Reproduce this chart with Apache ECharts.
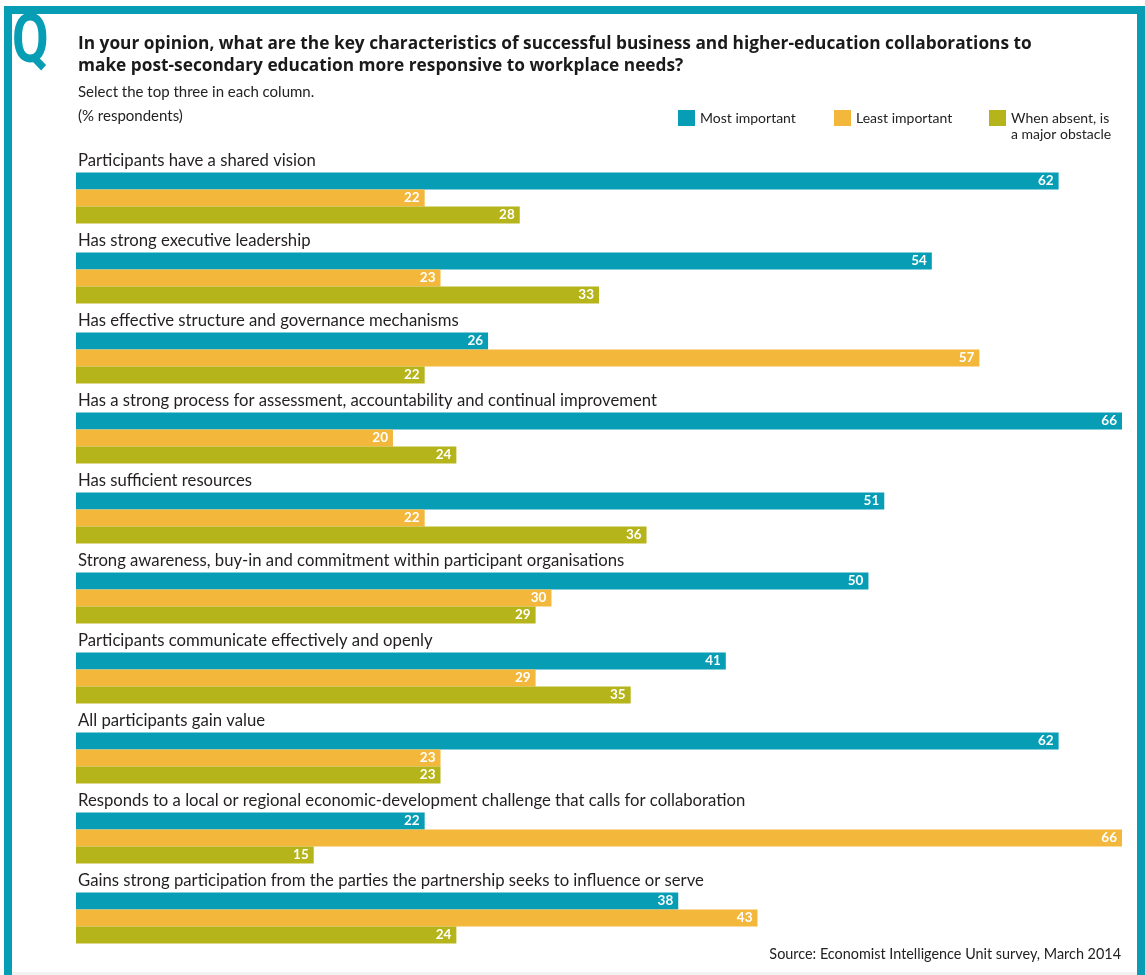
<!DOCTYPE html>
<html>
<head>
<meta charset="utf-8">
<script src="https://cdn.jsdelivr.net/npm/echarts@6/dist/echarts.min.js"></script>
<style>
html,body{margin:0;padding:0;background:#fff;}
#chart{width:1145px;height:975px;}
</style>
</head>
<body>
<div id="chart"></div>
<script>
const categories = [
  "Participants have a shared vision",
  "Has strong executive leadership",
  "Has effective structure and governance mechanisms",
  "Has a strong process for assessment, accountability and continual improvement",
  "Has sufficient resources",
  "Strong awareness, buy-in and commitment within participant organisations",
  "Participants communicate effectively and openly",
  "All participants gain value",
  "Responds to a local or regional economic-development challenge that calls for collaboration",
  "Gains strong participation from the parties the partnership seeks to influence or serve"
];
const seriesNames = ["Most important", "Least important", "When absent, is a major obstacle"];
const mostImportant = [62, 54, 26, 66, 51, 50, 41, 62, 22, 38];
const leastImportant = [22, 23, 57, 20, 22, 30, 29, 23, 66, 43];
const whenAbsent = [28, 33, 22, 24, 36, 29, 35, 23, 15, 24];

const titleText = "In your opinion, what are the key characteristics of successful business and higher-education collaborations to\nmake post-secondary education more responsive to workplace needs?";
const subText = "Select the top three in each column.\n(% respondents)";
const sourceText = "Source: Economist Intelligence Unit survey, March 2014";

const TEAL = "#079db5", ORANGE = "#f3b83b", OLIVE = "#b6b41b";
const FONT = "Lato";
const colors = [TEAL, ORANGE, OLIVE];
const values = [mostImportant, leastImportant, whenAbsent];

const chart = echarts.init(document.getElementById('chart'), null, {renderer: 'canvas'});

const series = values.map((v, i) => ({
  name: seriesNames[i],
  type: 'bar',
  data: v,
  barWidth: 17,
  barGap: '0%',
  itemStyle: {color: colors[i]},
  label: {
    show: true, position: 'insideRight', distance: 5,
    color: '#fff', fontWeight: 'bold', fontSize: 13.5, fontFamily: FONT
  },
  emphasis: {disabled: true}
}));

const legendPos = [678, 834, 989];
const legends = seriesNames.map((n, i) => {
  const l = {
    data: [n], left: legendPos[i], top: 110, orient: 'horizontal',
    itemWidth: 17, itemHeight: 16, itemGap: 0, padding: 0,
    icon: 'rect', selectedMode: false,
    textStyle: {fontFamily: FONT, fontSize: 14, color: '#222', lineHeight: 16}
  };
  if (i === 2) {
    l.formatter = () => "\u00a0\nWhen absent, is\na major obstacle";
    l.top = 94;
  }
  return l;
});

chart.setOption({
  animation: false,
  backgroundColor: '#fff',
  title: [
    {text: titleText, left: 78, top: 33, padding: 0,
     textStyle: {fontFamily: 'Open Sans', fontWeight: 'bold', fontSize: 17.3, lineHeight: 22, color: '#1a1a1a'}},
    {text: subText, left: 78, top: 80, padding: 0,
     textStyle: {fontFamily: FONT, fontWeight: 'normal', fontSize: 15, lineHeight: 24, color: '#222'}},
    {text: sourceText, right: 24, top: 947, padding: 0,
     textStyle: {fontFamily: FONT, fontWeight: 'normal', fontSize: 14.4, color: '#222'}}
  ],
  legend: legends,
  grid: {left: 76, right: 23, top: 158, bottom: 17, containLabel: false},
  xAxis: {type: 'value', min: 0, max: 66, show: false},
  yAxis: {
    type: 'category', data: categories, inverse: true,
    axisLine: {show: false}, axisTick: {show: false}, splitLine: {show: false},
    axisLabel: {
      inside: true, interval: 0, margin: 2, align: 'left', verticalAlign: 'bottom',
      fontFamily: FONT, fontSize: 16.7, color: '#231f20', padding: [0, 0, 29, 0]
    }
  },
  graphic: [
    {type: 'rect', shape: {x: 4, y: 6, width: 1141, height: 8}, style: {fill: TEAL}, silent: true},
    {type: 'rect', shape: {x: 4, y: 6, width: 8, height: 969}, style: {fill: TEAL}, silent: true},
    {type: 'rect', shape: {x: 1137, y: 6, width: 8, height: 969}, style: {fill: TEAL}, silent: true},
    {type: 'rect', shape: {x: 12, y: 972, width: 1125, height: 3}, style: {fill: '#f2f4f4'}, silent: true},
    {type: 'text', x: 12, y: 11, scaleX: 0.78, silent: true,
     style: {text: 'Q', font: 'bold 68px Roboto', fill: TEAL, textVerticalAlign: 'top'}}
  ],
  series: series
});
</script>
</body>
</html>
